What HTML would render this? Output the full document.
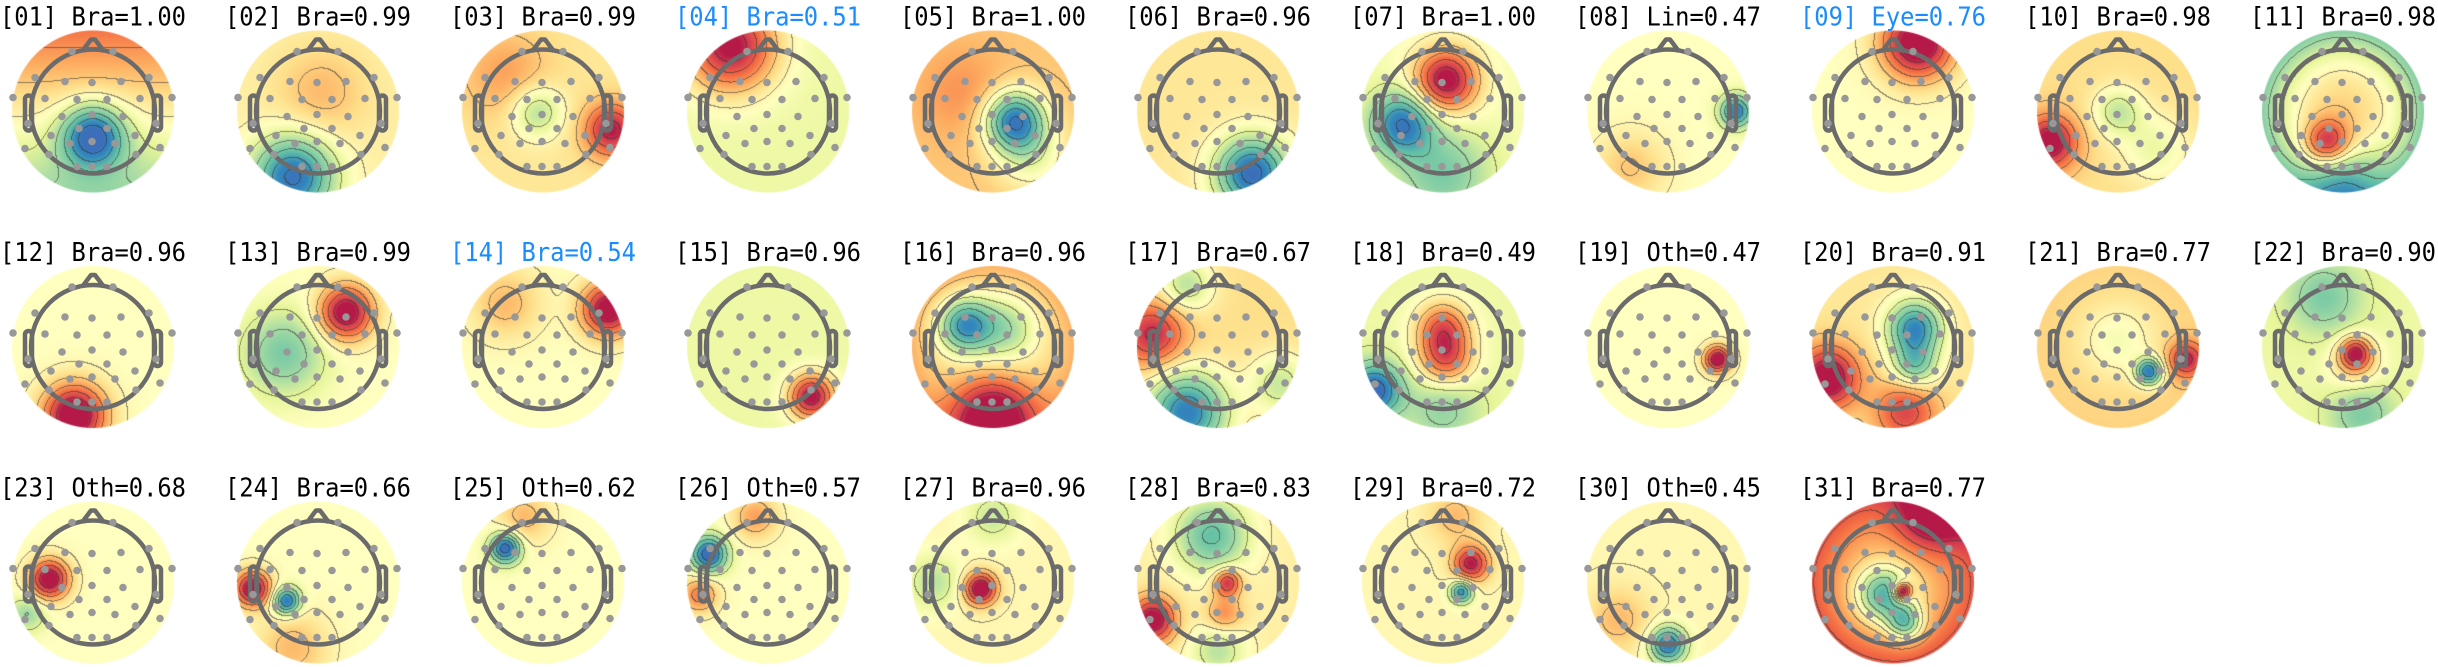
<!DOCTYPE html>
<html><head><meta charset="utf-8">
<style>
html,body{margin:0;padding:0;background:#fff;}
#wrap{position:relative;width:2438px;height:667px;overflow:hidden;}
canvas,svg{position:absolute;left:0;top:0;}
</style></head>
<body>
<div id="wrap">
<canvas id="cv" width="2438" height="667"></canvas>
<svg id="sv" width="2438" height="667" xmlns="http://www.w3.org/2000/svg"></svg>
</div>
<script>
// ---- data ----
const componentIds = ["01","02","03","04","05","06","07","08","09","10","11","12","13","14","15","16","17","18","19","20","21","22","23","24","25","26","27","28","29","30","31"];
const componentLabels = ["Bra","Bra","Bra","Bra","Bra","Bra","Bra","Lin","Eye","Bra","Bra","Bra","Bra","Bra","Bra","Bra","Bra","Bra","Oth","Bra","Bra","Bra","Oth","Bra","Oth","Oth","Bra","Bra","Bra","Oth","Bra"];
const componentProbs = [1.00,0.99,0.99,0.51,1.00,0.96,1.00,0.47,0.76,0.98,0.98,0.96,0.99,0.54,0.96,0.96,0.67,0.49,0.47,0.91,0.77,0.90,0.68,0.66,0.62,0.57,0.96,0.83,0.72,0.45,0.77];
const flagged = [false,false,false,true,false,false,false,false,true,false,false,false,false,true,false,false,false,false,false,false,false,false,false,false,false,false,false,false,false,false,false];
// field description per map: [base, gradY, radial]
const mapBase = [[0.15,-0.4,0],[0.15,0,0],[0.2,0,0],[-0.05,0,0],[0.35,0,0],[0.2,0,0],[0,0,0],[0.05,0,0],[0.05,0,0],[0.25,0,0],[0.3,0,-0.45],
[0.05,0,0],[0.05,0,0],[0.05,0,0],[-0.05,0,0],[0.1,0,0.2],[0.25,0,0],[-0.05,0,0],[0.05,0,0],[0.2,0,0],[0.3,0,0],[-0.05,0,0],
[0.05,0,0],[0.05,0,0],[0.05,0,0],[0.05,0,0],[0.1,0,0],[0.15,0,0],[0.1,0,0],[0.1,0,0],[0.3,0,0.3]];
// blobs per map: [x, y, value, spread] (normalized head coords)
const mapBlobs = [
[[0,0.4,-1.2,0.35]],
[[0.05,-0.3,0.25,0.5],[-0.4,1.05,-1.2,0.45]],
[[-0.1,0,-0.5,0.3],[1.1,0.3,0.9,0.3],[-0.6,-0.6,0.3,0.5]],
[[-0.6,-1.05,1.2,0.5]],
[[0.35,0.15,-1.3,0.33],[0.6,0.7,-0.4,0.4],[-0.5,-0.3,0.2,0.5]],
[[0.55,1.0,-1.3,0.4]],
[[0.05,-0.5,1.2,0.35],[-0.65,0.2,-1.0,0.35],[0,1,-0.5,0.5]],
[[1.1,0,-1.0,0.18],[-0.6,0.9,0.3,0.4]],
[[0.4,-1.1,1.3,0.4]],
[[0,0,-0.45,0.28],[-1.1,0.5,1.0,0.3],[0.6,0.6,-0.3,0.4]],
[[-0.25,0.5,0.9,0.25],[0,1.1,-0.5,0.4]],
[[-0.3,1.1,1.3,0.35]],
[[0.45,-0.55,1.2,0.3],[-0.55,0.1,-0.55,0.45]],
[[1.05,-0.6,1.2,0.3],[-0.6,-0.7,0.35,0.4]],
[[0.7,0.8,1.2,0.25]],
[[-0.45,-0.35,-1.0,0.3],[0.2,-0.3,-0.45,0.35],[0,1.1,1.1,0.45]],
[[-1.05,-0.2,0.8,0.35],[-0.5,1.05,-1.2,0.45],[-0.5,-1,-0.5,0.3],[1,0.6,-0.45,0.35]],
[[0,-0.3,0.8,0.3],[0.05,0.2,0.8,0.3],[-1.1,0.7,-1.1,0.3],[0,1,-0.35,0.4]],
[[0.8,0.2,1.2,0.15]],
[[0.35,-0.3,-1.1,0.3],[0.35,0.3,-0.7,0.25],[-1.05,0.5,1.1,0.35],[0.2,1.05,0.7,0.35]],
[[0.5,0.4,-1.2,0.15],[0,-0.1,-0.3,0.45],[1.1,0.2,0.8,0.2]],
[[-0.3,-0.8,-0.45,0.4],[0.2,0.1,1.0,0.18],[0.2,0.35,0.35,0.3],[0.3,1.05,-0.45,0.35]],
[[-0.7,-0.05,1.2,0.22],[-1.05,0.5,-0.4,0.2]],
[[-1.05,0.1,1.2,0.2],[-0.5,0.3,-1.1,0.15],[-0.4,1.05,0.35,0.4]],
[[-0.6,-0.55,-1.2,0.17],[-0.3,-1.05,0.35,0.3]],
[[-0.95,-0.45,-1.2,0.2],[-1.1,0.2,0.6,0.2],[-0.2,-1.05,0.45,0.25]],
[[-0.2,0.1,1.2,0.18],[-0.95,0,-0.35,0.3],[0,-1.05,-0.3,0.3]],
[[-0.1,-0.75,-0.75,0.4],[0.15,0.0,0.9,0.15],[-1.05,0.6,1.1,0.25],[0.1,0.5,0.45,0.2],[0,1.1,-0.4,0.3]],
[[0.45,-0.3,1.0,0.2],[0.3,0.15,-1.0,0.13],[0.2,-1.05,0.3,0.3]],
[[0,1.0,-1.1,0.2],[-0.8,0.6,0.3,0.35]],
[[-0.15,0.2,-1.0,0.3],[0.2,0.65,-0.9,0.2],[0.15,0.15,1.4,0.1],[0.6,-1.05,0.7,0.4]]
];
// electrode layout (pixels relative to head center)
const electrodes = [[-21,-60],[20,-60],[-58,-34],[-28,-30],[-1,-29],[28,-30],[56,-34],[-80,-14],[-48,-13],[-16,-12],[14,-12],[47,-13],[79,-14],
[-65,12],[-31,5],[-1,3],[30,5],[63,12],[-42,24],[-14,17],[14,17],[42,24],[-68,37],[-23,32],[-1,30],[22,32],[67,36],[-44,43],[43,43],[-16,55],[-1,55],[14,55]];

// ---- layout ----
const NCOL=11, COLW=225, ROWH=235.5, X0=93, Y0=111.5, R=81;
const stops=[[-1.1,[60,110,185]],[-0.9,[50,136,189]],[-0.6,[102,194,165]],[-0.3,[171,221,164]],[-0.1,[230,245,152]],[0.05,[255,255,191]],[0.25,[254,224,139]],[0.45,[253,174,97]],[0.7,[244,109,67]],[0.95,[213,62,79]],[1.1,[180,25,72]]];
function cmap(v){
  if(v<=stops[0][0]) return stops[0][1];
  for(let i=1;i<stops.length;i++){ if(v<=stops[i][0]){const a=stops[i-1],b=stops[i],t=(v-a[0])/(b[0]-a[0]);return [0,1,2].map(k=>a[1][k]+(b[1][k]-a[1][k])*t);} }
  return stops[stops.length-1][1];
}
function field(m,x,y){
  const b=mapBase[m]; let v=b[0]+b[1]*y+b[2]*(x*x+y*y);
  for(const bl of mapBlobs[m]){const dx=x-bl[0],dy=y-bl[1];v+=bl[2]*Math.exp(-(dx*dx+dy*dy)/(2*bl[3]*bl[3]));}
  return Math.max(-1.1,Math.min(1.1,v));
}
const ctx=document.getElementById('cv').getContext('2d');
const img=ctx.createImageData(2438,667);
const D=img.data;
for(let m=0;m<componentIds.length;m++){
  const cx=X0+COLW*(m%NCOL), cy=Y0+ROWH*Math.floor(m/NCOL);
  const x0=Math.floor(cx-R-1), y0=Math.floor(cy-R-1), n=2*R+3;
  const V=new Float32Array(n*n);
  for(let j=0;j<n;j++)for(let i=0;i<n;i++){V[j*n+i]=field(m,(x0+i+0.5-cx)/R*1.3,(y0+j+0.5-cy)/R*1.3);}
  const lev=v=>Math.floor(v*4.5+0.5);
  for(let j=1;j<n-1;j++)for(let i=1;i<n-1;i++){
    const px=x0+i, py=y0+j; if(px<0||py<0||px>=2438||py>=667) continue;
    const dx=px+0.5-cx, dy=py+0.5-cy, d=Math.sqrt(dx*dx+dy*dy);
    if(d>R+0.5) continue;
    const v=V[j*n+i]; let c=cmap(v);
    const L=lev(v);
    if(lev(V[j*n+i+1])!==L||lev(V[(j+1)*n+i])!==L){c=c.map(q=>q*0.45+50*0.55);}
    const a=Math.min(1,R+0.5-d);
    const k=(py*2438+px)*4;
    D[k]=c[0];D[k+1]=c[1];D[k+2]=c[2];D[k+3]=255*a;
  }
}
ctx.putImageData(img,0,0);

const NS='http://www.w3.org/2000/svg';
const sv=document.getElementById('sv');
function mk(tag,attrs,parent){const e=document.createElementNS(NS,tag);for(const k in attrs)e.setAttribute(k,attrs[k]);(parent||sv).appendChild(e);return e;}
for(let m=0;m<componentIds.length;m++){
  const cx=X0+COLW*(m%NCOL), cy=Y0+ROWH*Math.floor(m/NCOL);
  const g=mk('g',{});
  
  
  const t=mk('text',{x:cx-93,y:cy-86,'font-family':'"DejaVu Sans Mono","Liberation Mono",monospace','font-size':26,textLength:186,lengthAdjust:'spacingAndGlyphs',fill:flagged[m]?'#1a8cff':'#000'},g);
  t.textContent='['+componentIds[m]+'] '+componentLabels[m]+'='+componentProbs[m].toFixed(2);
  
  
  const st={fill:'none',stroke:'#6b6b6b','stroke-width':4.5,'stroke-linejoin':'round'};
  const h=mk('circle',Object.assign({cx:cx,cy:cy,r:62},st),g);
  
  
  const nose=mk('polyline',Object.assign({points:(cx-11)+','+(cy-60)+' '+(cx-2)+','+(cy-72)+' '+(cx+2)+','+(cy-72)+' '+(cx+11)+','+(cy-60)},st),g);
  
  
  for(const s of [-1,1]){
    const ear=mk('rect',Object.assign({x:s<0?cx-68:cx+61,y:cy-16,width:7,height:35,rx:3.5},st),g);
    
    
  }
  for(const e of electrodes){
    const c=mk('circle',{cx:cx+e[0],cy:cy+e[1],r:3.8,fill:'#989898'},g);
    
    
  }
}
</script>
</body></html>
